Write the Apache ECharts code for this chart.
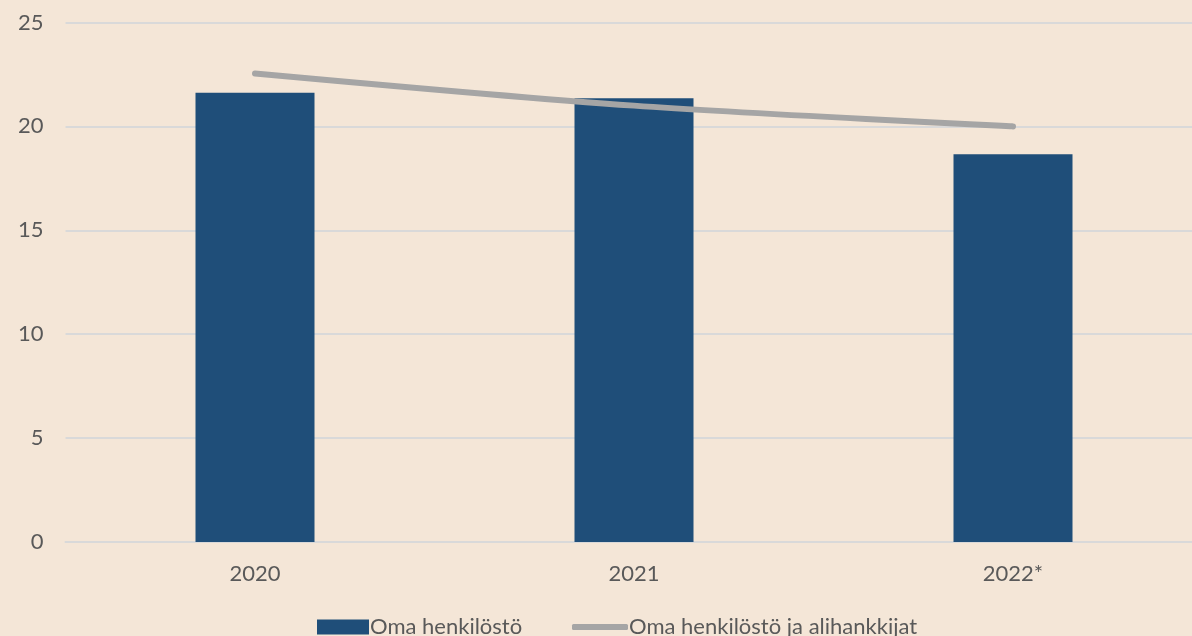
<!DOCTYPE html>
<html>
<head>
<meta charset="utf-8">
<script src="https://cdn.jsdelivr.net/npm/echarts@6/dist/echarts.min.js"></script>
<style>
html,body{margin:0;padding:0;background:#f4e6d7;overflow:hidden;width:1192px;height:636px;}
#c{width:1212px;height:636px;}
</style>
</head>
<body>
<div id="c"></div>
<script>
const categories = ['2020', '2021', '2022*'];
const omaHenkilosto = [21.62, 21.35, 18.66];
const omaJaAlihankkijat = [22.55, 21.0, 20.0];
const seriesNames = ['Oma henkilöstö', 'Oma henkilöstö ja alihankkijat'];

const chart = echarts.init(document.getElementById('c'), null, {renderer: 'canvas'});
const font = 'Lato, "Open Sans", sans-serif';
const legendText = {fontFamily: font, fontSize: 22, color: '#595959', padding: [0, 0, 0, -4]};
chart.setOption({
  backgroundColor: '#f4e6d7',
  animation: false,
  grid: {left: 65.5, top: 22.5, width: 1137, height: 519.5, containLabel: false},
  legend: [
    {
      left: 312,
      bottom: -7,
      itemWidth: 52,
      itemHeight: 15,
      textStyle: legendText,
      data: [{name: seriesNames[0], icon: 'rect'}]
    },
    {
      left: 567,
      bottom: -7,
      itemWidth: 56,
      itemHeight: 6,
      textStyle: legendText,
      data: [{name: seriesNames[1], icon: 'roundRect', itemStyle: {color: '#a5a5a5'}}]
    }
  ],
  xAxis: {
    type: 'category',
    data: categories,
    axisLine: {show: true, lineStyle: {color: '#d9d9d9', width: 2}},
    axisTick: {show: false},
    axisLabel: {fontFamily: font, fontSize: 22, color: '#595959', margin: 21}
  },
  yAxis: {
    type: 'value',
    min: 0, max: 25, interval: 5,
    axisLine: {show: false},
    axisTick: {show: false},
    splitLine: {lineStyle: {color: '#d9d9d9', width: 2}},
    axisLabel: {fontFamily: font, fontSize: 22, color: '#595959', margin: 22}
  },
  series: [
    {
      name: seriesNames[0],
      type: 'bar',
      data: omaHenkilosto,
      barWidth: 119,
      itemStyle: {color: '#1f4e79'}
    },
    {
      name: seriesNames[1],
      type: 'line',
      data: omaJaAlihankkijat,
      smooth: 0.3,
      symbol: 'none',
      lineStyle: {color: '#a5a5a5', width: 6, cap: 'round'},
      itemStyle: {color: '#a5a5a5'}
    }
  ]
});
</script>
</body>
</html>
